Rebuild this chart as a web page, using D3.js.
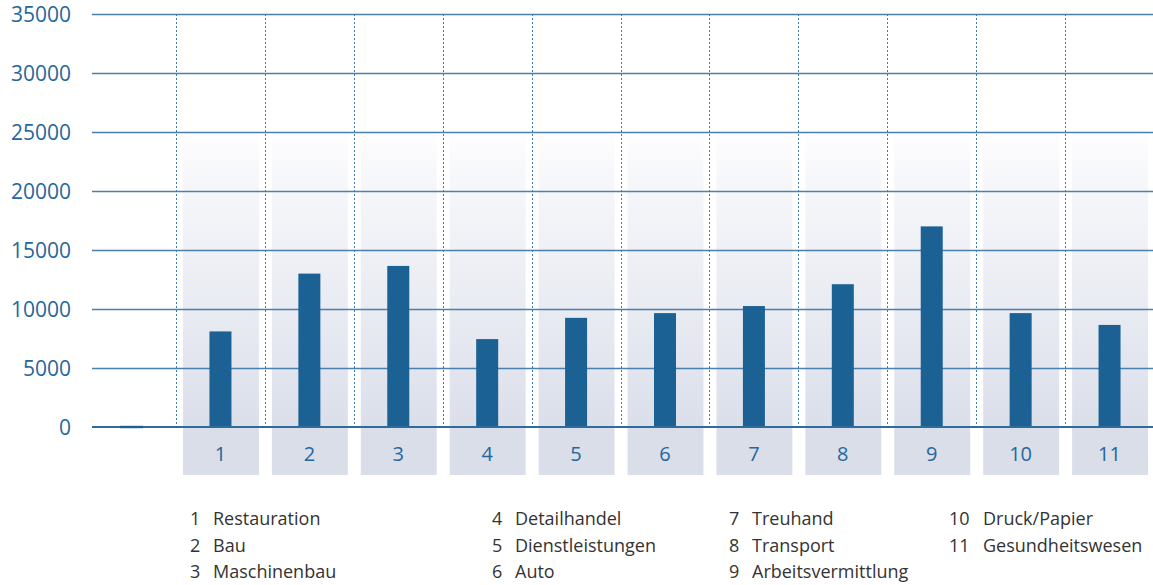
<!DOCTYPE html>
<html>
<head>
<meta charset="utf-8">
<script src="https://cdn.jsdelivr.net/npm/d3@7"></script>
<style>
body {margin:0;background:#fff;}
svg {display:block;font-family:"Open Sans", sans-serif;}
.ytick {font-size:21px;fill:#25679b;}
.xlab {font-size:20px;fill:#25679b;}
.legend {font-size:18px;fill:#333;}
</style>
</head>
<body>
<svg id="chart" width="1153" height="585"></svg>
<script>
// data
var categories = ["1","2","3","4","5","6","7","8","9","10","11"];
var names = ["Restauration","Bau","Maschinenbau","Detailhandel","Dienstleistungen","Auto",
             "Treuhand","Transport","Arbeitsvermittlung","Druck/Papier","Gesundheitswesen"];
var values = [8100, 13000, 13650, 7450, 9250, 9650, 10250, 12100, 17000, 9650, 8650];
var yTicks = [0, 5000, 10000, 15000, 20000, 25000, 30000, 35000];

var svg = d3.select("#chart");
var plotLeft = 92, plotRight = 1153, plotTop = 14, plotBottom = 427;

var x = d3.scaleBand().domain(categories).range([176, 1154]).padding(0);
var y = d3.scaleLinear().domain([0, 35000]).range([plotBottom, plotTop]);

// fading background columns
var defs = svg.append("defs");
var grad = defs.append("linearGradient").attr("id", "colfade")
  .attr("x1", 0).attr("y1", 0).attr("x2", 0).attr("y2", 1);
grad.append("stop").attr("offset", "0%").attr("stop-color", "#dde1ec").attr("stop-opacity", 0);
grad.append("stop").attr("offset", "15%").attr("stop-color", "#dfe2ed").attr("stop-opacity", 0.25);
grad.append("stop").attr("offset", "100%").attr("stop-color", "#dbdfea").attr("stop-opacity", 1);

svg.append("g").selectAll("rect")
  .data(categories).enter().append("rect")
  .attr("x", d => x(d) + 7)
  .attr("width", x.bandwidth() - 13)
  .attr("y", 127)
  .attr("height", plotBottom - 127)
  .attr("fill", "url(#colfade)");

svg.append("g").selectAll("rect")
  .data(categories).enter().append("rect")
  .attr("x", d => x(d) + 7)
  .attr("width", x.bandwidth() - 13)
  .attr("y", plotBottom)
  .attr("height", 48)
  .attr("fill", "#d9dee9");

// horizontal grid
svg.append("g").selectAll("line")
  .data(yTicks.filter(d => d > 0)).enter().append("line")
  .attr("x1", plotLeft).attr("x2", plotRight)
  .attr("y1", d => Math.round(y(d)) + 0.5).attr("y2", d => Math.round(y(d)) + 0.5)
  .attr("stroke", "#4a7fae").attr("stroke-width", 1.4);

// dotted vertical separators
svg.append("g").selectAll("line")
  .data(categories).enter().append("line")
  .attr("x1", d => Math.round(x(d)) + 0.5).attr("x2", d => Math.round(x(d)) + 0.5)
  .attr("y1", plotTop).attr("y2", plotBottom)
  .attr("stroke", "#3f7bb0").attr("stroke-width", 1)
  .attr("stroke-dasharray", "2,2");

// bars
svg.append("g").selectAll("rect")
  .data(values).enter().append("rect")
  .attr("x", (d, i) => x(categories[i]) + x.bandwidth() / 2 - 11)
  .attr("width", 22)
  .attr("y", d => y(d))
  .attr("height", d => plotBottom - y(d))
  .attr("fill", "#1c6194");

// zero axis line
svg.append("line")
  .attr("x1", plotLeft).attr("x2", plotRight)
  .attr("y1", plotBottom).attr("y2", plotBottom)
  .attr("stroke", "#2f6c9c").attr("stroke-width", 2);
svg.append("line")
  .attr("x1", 120).attr("x2", 143)
  .attr("y1", plotBottom).attr("y2", plotBottom)
  .attr("stroke", "#1c5e91").attr("stroke-width", 2.4);

// y tick labels
svg.append("g").selectAll("text")
  .data(yTicks).enter().append("text")
  .attr("class", "ytick")
  .attr("x", 71).attr("y", d => y(d))
  .attr("text-anchor", "end")
  .attr("dominant-baseline", "central")
  .text(d => d);

// category labels
svg.append("g").selectAll("text")
  .data(categories).enter().append("text")
  .attr("class", "xlab")
  .attr("x", d => x(d) + x.bandwidth() / 2)
  .attr("y", 453)
  .attr("text-anchor", "middle")
  .attr("dominant-baseline", "central")
  .text(d => d);

// legend
var numX = [190, 492, 729, 949];
var nameX = [213, 515, 752, 983];
var rowY = [518, 545, 571];
var colOf = [0,0,0,1,1,1,2,2,2,3,3];
var rowOf = [0,1,2,0,1,2,0,1,2,0,1];
var lg = svg.append("g");
categories.forEach(function(c, i) {
  lg.append("text").attr("class", "legend")
    .attr("x", numX[colOf[i]]).attr("y", rowY[rowOf[i]])
    .attr("dominant-baseline", "central").text(c);
  lg.append("text").attr("class", "legend")
    .attr("x", nameX[colOf[i]]).attr("y", rowY[rowOf[i]])
    .attr("dominant-baseline", "central").text(names[i]);
});
</script>
</body>
</html>
